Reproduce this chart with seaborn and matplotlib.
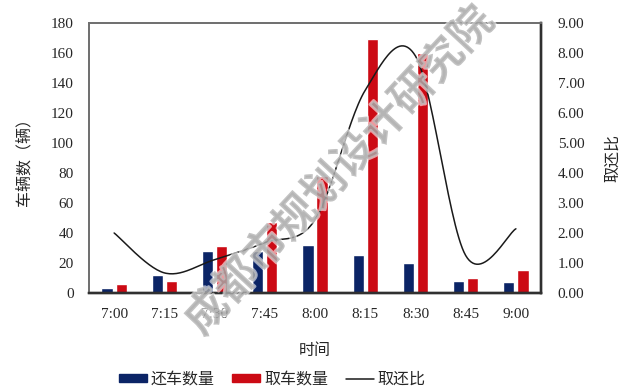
import numpy as np
import pandas as pd
import matplotlib
matplotlib.use("Agg")
import matplotlib.pyplot as plt
import matplotlib.patheffects as pe
from matplotlib.lines import Line2D
from matplotlib.patches import Patch
import seaborn as sns

# Data
times = ["7:00", "7:15", "7:30", "7:45", "8:00", "8:15", "8:30", "8:45", "9:00"]
returned = [3, 12, 28, 28, 32, 25, 20, 8, 7]        # 还车数量
picked = [6, 8, 31, 47, 78, 169, 160, 10, 15]       # 取车数量
ratio = [2.0, 0.67, 1.11, 1.68, 2.44, 6.76, 7.9, 1.25, 2.14]  # 取还比

sns.set_theme(style="white")
cjk = ["Noto Sans CJK SC", "DejaVu Sans"]
serif = ["Liberation Serif", "DejaVu Serif"]
plt.rcParams["font.family"] = cjk

blue = "#0B2466"
red = "#CC0A14"

df = pd.DataFrame({
    "时间": times * 2,
    "数量": returned + picked,
    "类别": ["还车数量"] * len(times) + ["取车数量"] * len(times),
})

fig = plt.figure(figsize=(6.23, 3.89), dpi=100)
ax = fig.add_axes([0.1429, 0.2468, 0.7255, 0.6941])

sns.barplot(data=df, x="时间", y="数量", hue="类别", order=times,
            hue_order=["还车数量", "取车数量"], palette=[blue, red],
            width=0.56, gap=0.2, saturation=1, legend=False, ax=ax)
ax.set_ylim(0, 180)
ax.set_xlim(-0.5, len(times) - 0.5)
ax.set_yticks(np.arange(0, 181, 20))
ax.set_xlabel("时间", fontsize=11.5, labelpad=15)
ax.set_ylabel("车辆数（辆）", fontsize=11.5, labelpad=13)
ax.tick_params(axis="both", length=0, labelsize=11)
ax.tick_params(axis="y", pad=11)
ax.tick_params(axis="x", pad=11)
for lab in ax.get_xticklabels() + ax.get_yticklabels():
    lab.set_fontfamily(serif)

# Smoothed ratio curve (Bezier segments through each point, Excel-style)
def smooth(xs, ys, n=30):
    xs = np.asarray(xs, float)
    ys = np.asarray(ys, float)
    px = np.concatenate([[xs[0]], xs, [xs[-1]]])
    py = np.concatenate([[ys[0]], ys, [ys[-1]]])
    outx, outy = [], []
    t = np.linspace(0, 1, n)
    for i in range(1, len(px) - 2):
        p0 = np.array([px[i], py[i]])
        p3 = np.array([px[i + 1], py[i + 1]])
        c1 = p0 + (np.array([px[i + 1], py[i + 1]]) - np.array([px[i - 1], py[i - 1]])) / 6
        c2 = p3 - (np.array([px[i + 2], py[i + 2]]) - np.array([px[i], py[i]])) / 6
        b = ((1 - t) ** 3)[:, None] * p0 + (3 * (1 - t) ** 2 * t)[:, None] * c1 \
            + (3 * (1 - t) * t ** 2)[:, None] * c2 + (t ** 3)[:, None] * p3
        outx.extend(b[:, 0])
        outy.extend(b[:, 1])
    return np.array(outx), np.array(outy)

ax2 = ax.twinx()
sx, sy = smooth(np.arange(len(times)), ratio)
sns.lineplot(x=sx, y=sy, color="#1a1a1a", linewidth=1.1, sort=False,
             estimator=None, ax=ax2)
ax2.set_ylim(0, 9)
ax2.set_yticks(np.arange(0, 9.1, 1))
ax2.set_yticklabels([f"{v:.2f}" for v in np.arange(0, 9.1, 1)])
ax2.set_ylabel("取还比", fontsize=11.5, labelpad=14)
ax2.tick_params(axis="y", length=0, labelsize=11, pad=12)
for lab in ax2.get_yticklabels():
    lab.set_fontfamily(serif)
ax2.grid(False)
ax.grid(False)

for a in (ax, ax2):
    a.spines["left"].set_color("#707070")
    a.spines["top"].set_color("#707070")
    a.spines["left"].set_linewidth(1.3)
    a.spines["top"].set_linewidth(1.3)
    a.spines["bottom"].set_color("#303030")
    a.spines["right"].set_color("#303030")
    a.spines["bottom"].set_linewidth(1.7)
    a.spines["right"].set_linewidth(1.7)

# Legend
handles = [Patch(color=blue), Patch(color=red),
           Line2D([], [], color="#1a1a1a", linewidth=1.1)]
fig.legend(handles, ["还车数量", "取车数量", "取还比"], loc="center",
           bbox_to_anchor=(0.437, 0.025), ncol=3, frameon=False,
           fontsize=11.5, handlelength=1.75, handleheight=0.45,
           handletextpad=0.25, columnspacing=1.1)

# Watermark
fig.text(0.545, 0.56, "成都市规划设计研究院", rotation=47, fontsize=31,
         color="#a8a8a8", alpha=0.6, ha="center", va="center",
         fontweight="bold",
         path_effects=[pe.withStroke(linewidth=2, foreground="white")])

fig.savefig("out.png", dpi=100)
